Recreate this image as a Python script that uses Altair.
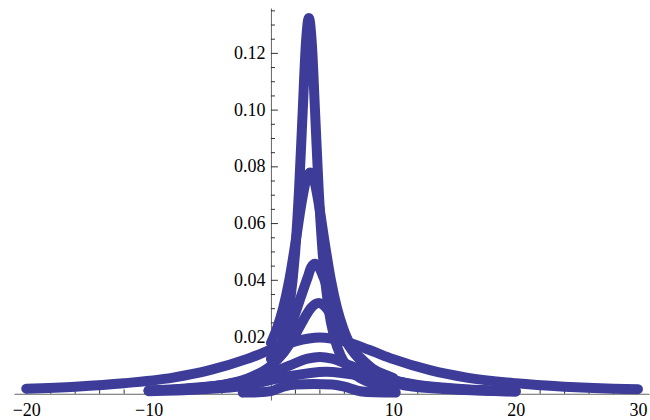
import altair as alt
import pandas as pd

# ---- curve data (x, y pairs per series) ----
# series on [0, 10]
spike_x = [0, 0.5, 1, 1.5, 2, 2.3, 2.6, 2.85, 3.1, 3.35, 3.6, 3.9, 4.2, 4.7, 5.2, 5.7, 6.2, 7, 8, 9, 10]
spike_y = [0.0097, 0.0134, 0.0195, 0.0304, 0.0512, 0.0721, 0.100, 0.1229, 0.1325, 0.1229, 0.100, 0.0721,
           0.0512, 0.0304, 0.0195, 0.0134, 0.0097, 0.0063, 0.0041, 0.0028, 0.0021]

inner_x = [0, 0.5, 1, 1.5, 2, 2.5, 2.9, 3.2, 3.5, 3.9, 4.4, 4.9, 5.4, 5.9, 6.4, 7, 8, 9, 10]
inner_y = [0.0179, 0.0231, 0.0302, 0.0401, 0.0531, 0.0672, 0.0758, 0.078, 0.0758, 0.0672, 0.0531, 0.0401,
           0.0302, 0.0231, 0.0179, 0.0136, 0.0091, 0.0065, 0.0048]

arc46_x = [0, 0.5, 1, 1.5, 2, 2.5, 3, 3.3, 3.6, 3.9, 4.3, 4.8, 5.3, 5.8, 6.3, 6.8, 7.4, 8.3, 9.2, 10]
arc46_y = [0.0123, 0.015, 0.0186, 0.023, 0.0285, 0.0349, 0.041, 0.0447, 0.0458, 0.0447, 0.041, 0.0349,
           0.0285, 0.023, 0.0186, 0.015, 0.0123, 0.0089, 0.0069, 0.0056]

# series on [-10, 20]
arc32_x = [-10, -7, -4, -2, 0, 1, 2, 2.7, 3.3, 3.9, 4.5, 5.1, 5.8, 6.8, 7.8, 9.8, 11.8, 14.8, 17.8, 20]
arc32_y = [0.0011, 0.0017, 0.0031, 0.0052, 0.0099, 0.0143, 0.0209, 0.0264, 0.0304, 0.0320, 0.0304,
           0.0264, 0.0209, 0.0143, 0.0099, 0.0052, 0.0031, 0.0017, 0.0011, 0.0008]

mid1_x = [-10, -7, -4, -2, 0, 1.5, 3, 4, 5, 6.5, 8, 10, 12, 15, 18, 20]
mid1_y = [0.0012, 0.0019, 0.0031, 0.0047, 0.0073, 0.0099, 0.0124, 0.0130, 0.0124, 0.0099, 0.0073,
          0.0047, 0.0031, 0.0019, 0.0012, 0.0010]

mid2_x = [-10, -6, -2, 1, 4.5, 8, 11, 15, 20]
mid2_y = [0.0009, 0.0015, 0.0029, 0.0058, 0.0078, 0.0058, 0.0029, 0.0015, 0.0008]

# series on [-20, 30]
wide_x = [-20, -16, -12, -8, -5, -2, 0, 2, 4, 6, 8, 10, 13, 16, 20, 24, 28, 30]
wide_y = [0.0018, 0.0025, 0.0037, 0.0057, 0.0083, 0.0122, 0.0155, 0.0185, 0.0198, 0.0185, 0.0155,
          0.0122, 0.0083, 0.0057, 0.0037, 0.0025, 0.0018, 0.0016]

# low series near the axis
low_x = [-2.3, -1, 0, 1, 2, 3.5, 5, 6, 7.3, 8.5, 10.2]
low_y = [0.0004, 0.0005, 0.0009, 0.0025, 0.0033, 0.0034, 0.0033, 0.0025, 0.0009, 0.0005, 0.0004]

series = {
    "spike": (spike_x, spike_y),
    "inner": (inner_x, inner_y),
    "arc46": (arc46_x, arc46_y),
    "arc32": (arc32_x, arc32_y),
    "mid1": (mid1_x, mid1_y),
    "mid2": (mid2_x, mid2_y),
    "wide": (wide_x, wide_y),
    "low": (low_x, low_y),
}

# ---- tick values ----
x_major = [-20, -10, 10, 20, 30]
x_minor = [-18, -16, -14, -12, -8, -6, -4, -2, 2, 4, 6, 8, 12, 14, 16, 18, 22, 24, 26, 28]
y_major = [0.02, 0.04, 0.06, 0.08, 0.10, 0.12]
y_minor = [0.005, 0.01, 0.015, 0.025, 0.03, 0.035, 0.045, 0.05, 0.055, 0.065, 0.07, 0.075,
           0.085, 0.09, 0.095, 0.105, 0.11, 0.115, 0.125, 0.13, 0.135]

rows = []
for name, (xs_, ys_) in series.items():
    for xv, yv in zip(xs_, ys_):
        rows.append({"series": name, "x": xv, "y": yv})
df = pd.DataFrame(rows)

XDOM = [-21, 30.9]
YDOM = [-0.0022, 0.136]
W, H = 635, 392
FONT = "Liberation Serif"
BLUE = "#3d3d99"
TICK = "#333333"
AXIS = "#666666"

xs = alt.Scale(domain=XDOM, nice=False, zero=False)
ys = alt.Scale(domain=YDOM, nice=False, zero=False)

x_axis = alt.Axis(values=x_major, ticks=False, tickSize=0, grid=False, domainColor=AXIS,
                  labelFont=FONT, labelFontSize=18, labelColor="black", labelPadding=7.5,
                  offset=-(0 - YDOM[0]) / (YDOM[1] - YDOM[0]) * H, title=None, format="d")
y_axis = alt.Axis(values=y_major, ticks=False, tickSize=0, grid=False, domainColor=AXIS,
                  labelFont=FONT, labelFontSize=18, labelColor="black", labelPadding=6,
                  offset=-(0 - XDOM[0]) / (XDOM[1] - XDOM[0]) * W, title=None, format=".2f")

curves = alt.Chart(df).mark_line(
    color=BLUE, strokeWidth=10, strokeCap="round", strokeJoin="round", interpolate="monotone"
).encode(
    x=alt.X("x:Q", scale=xs, axis=x_axis),
    y=alt.Y("y:Q", scale=ys, axis=y_axis),
    detail="series:N",
)

xt_major = alt.Chart(pd.DataFrame({"t": x_major})).mark_rule(color=TICK, strokeWidth=1).encode(
    x=alt.X("t:Q", scale=xs), y=alt.datum(0), y2=alt.datum(0.0027))
xt_minor = alt.Chart(pd.DataFrame({"t": x_minor})).mark_rule(color=TICK, strokeWidth=1).encode(
    x=alt.X("t:Q", scale=xs), y=alt.datum(0), y2=alt.datum(0.0015))
yt_major = alt.Chart(pd.DataFrame({"t": y_major})).mark_rule(color=TICK, strokeWidth=1).encode(
    y=alt.Y("t:Q", scale=ys), x=alt.datum(0), x2=alt.datum(0.57))
yt_minor = alt.Chart(pd.DataFrame({"t": y_minor})).mark_rule(color=TICK, strokeWidth=1).encode(
    y=alt.Y("t:Q", scale=ys), x=alt.datum(0), x2=alt.datum(0.33))

chart = alt.layer(xt_major, xt_minor, yt_major, yt_minor, curves).properties(
    width=W, height=H,
    background="white",
    autosize=alt.AutoSizeParams(type="none"),
    padding={"left": 14, "top": 8, "right": 1, "bottom": 20},
).configure_view(stroke=None)

chart.save("out.html", embed_options={"renderer": "svg", "actions": False})
